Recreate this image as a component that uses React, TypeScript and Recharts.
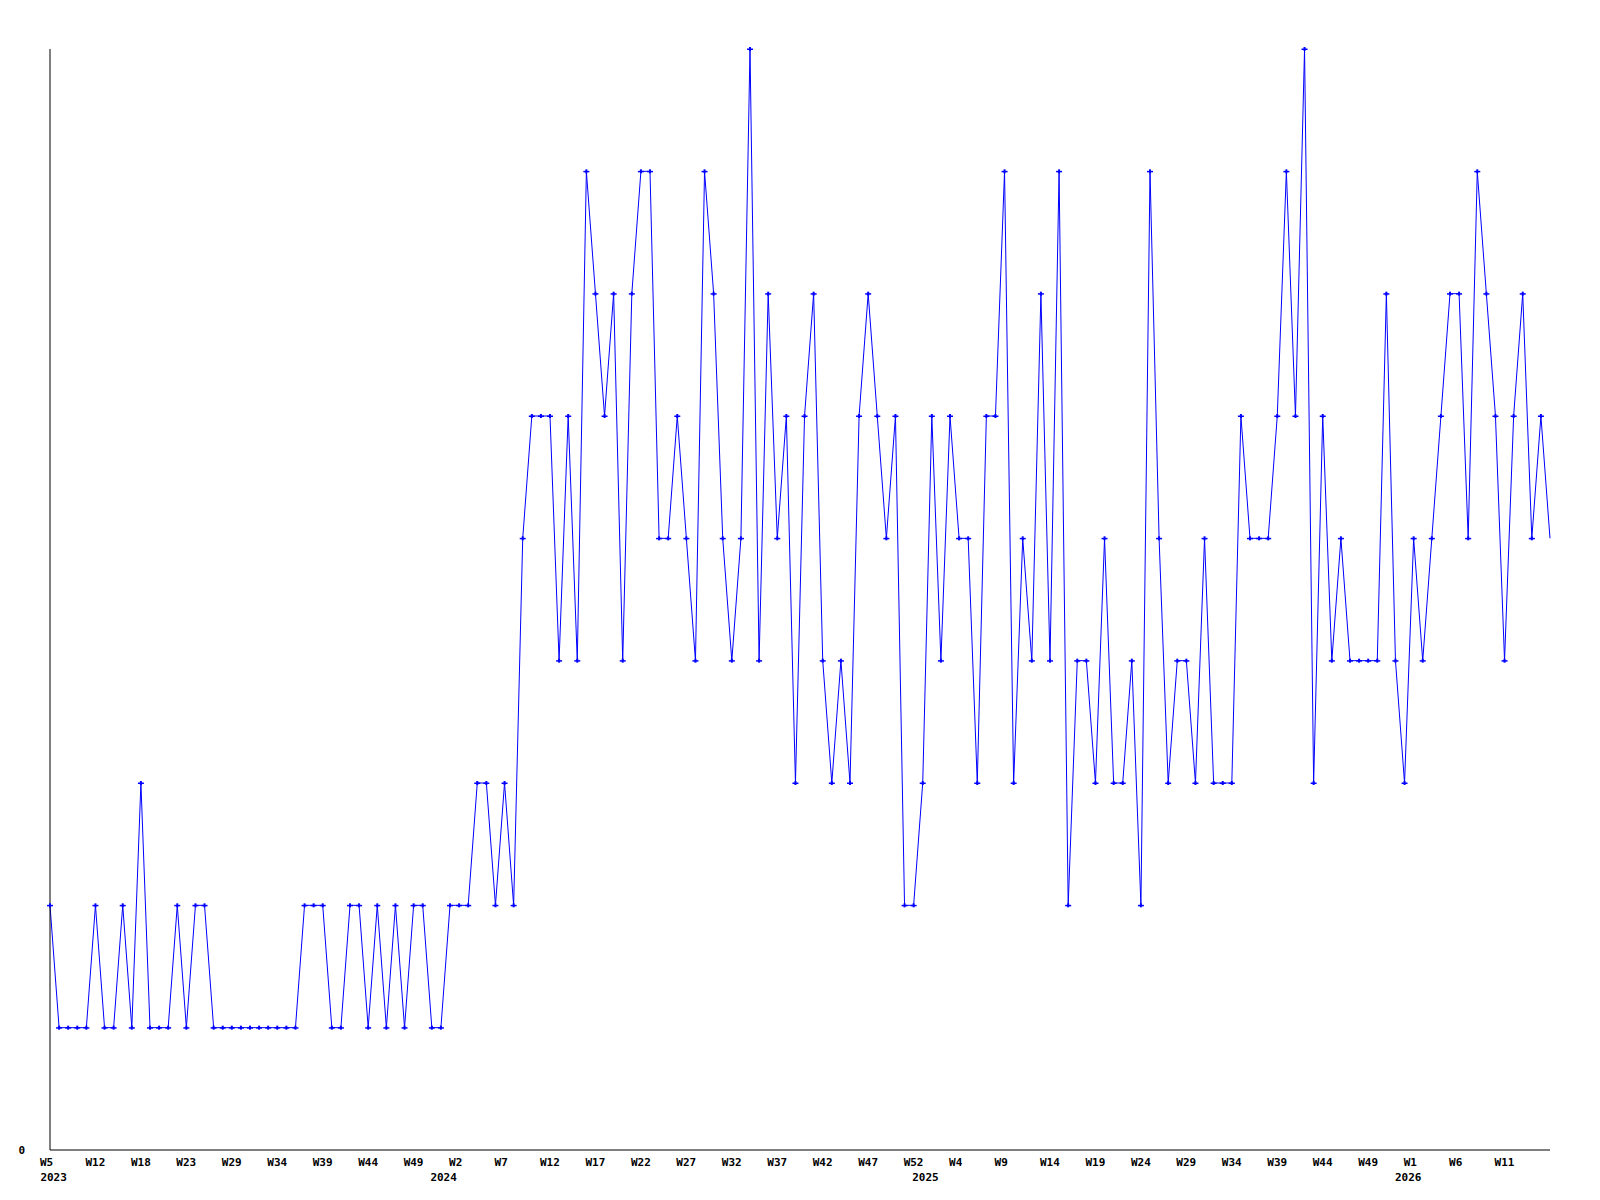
import React from 'react';
import { LineChart, Line, XAxis, YAxis } from 'recharts';

// weekly counts, 2023 W5 .. 2026 W14
const values = [
    2, 1, 1, 1, 1, 2, 1, 1, 2, 1,
    3, 1, 1, 1, 2, 1, 2, 2, 1, 1,
    1, 1, 1, 1, 1, 1, 1, 1, 2, 2,
    2, 1, 1, 2, 2, 1, 2, 1, 2, 1,
    2, 2, 1, 1, 2, 2, 2, 3, 3, 2,
    3, 2, 5, 6, 6, 6, 4, 6, 4, 8,
    7, 6, 7, 4, 7, 8, 8, 5, 5, 6,
    5, 4, 8, 7, 5, 4, 5, 9, 4, 7,
    5, 6, 3, 6, 7, 4, 3, 4, 3, 6,
    7, 6, 5, 6, 2, 2, 3, 6, 4, 6,
    5, 5, 3, 6, 6, 8, 3, 5, 4, 7,
    4, 8, 2, 4, 4, 3, 5, 3, 3, 4,
    2, 8, 5, 3, 4, 4, 3, 5, 3, 3,
    3, 6, 5, 5, 5, 6, 8, 6, 9, 3,
    6, 4, 5, 4, 4, 4, 4, 7, 4, 3,
    5, 4, 5, 6, 7, 7, 5, 8, 7, 6,
    4, 6, 7, 5, 6, 5,
];

// one label every 5 points
const weekLabels = [
    'W5', 'W12', 'W18', 'W23', 'W29', 'W34', 'W39', 'W44', 'W49', 'W2',
    'W7', 'W12', 'W17', 'W22', 'W27', 'W32', 'W37', 'W42', 'W47', 'W52',
    'W4', 'W9', 'W14', 'W19', 'W24', 'W29', 'W34', 'W39', 'W44', 'W49',
    'W1', 'W6', 'W11',
];
const weekTickStep = 5;

const yearLabels = ['2023', '2024', '2025', '2026'];
const yearTicks = [0.4, 43.3, 96.3, 149.4];

const data = values.map((v, i) => ({ i, v }));
const weekTicks = weekLabels.map((_, k) => k * weekTickStep);

const FONT = '"DejaVu Sans Mono", monospace';
const BLUE = '#0000ff';

const WeekTick = (props: any) => {
    const { x, y, payload } = props;
    const label = weekLabels[Math.round(payload.value / weekTickStep)];
    return (
        <text x={x - 10} y={y + 16} textAnchor="start" fontFamily={FONT} fontSize={11} fontWeight="bold" fill="#000">
            {label}
        </text>
    );
};

const YearTick = (props: any) => {
    const { x, y, payload } = props;
    const k = yearTicks.indexOf(payload.value);
    return (
        <text x={x} y={y + 15} textAnchor="middle" fontFamily={FONT} fontSize={11} fontWeight="bold" fill="#000">
            {yearLabels[k]}
        </text>
    );
};

const ValueTick = (props: any) => {
    const { x, y, payload } = props;
    return (
        <text x={x} y={y + 4} textAnchor="end" fontFamily={FONT} fontSize={11} fontWeight="bold" fill="#000">
            {payload.value}
        </text>
    );
};

// small "+" shaped marker, no marker on the last point
const renderDot = (props: any) => {
    const { cx, cy, index } = props;
    if (index === values.length - 1 || cx == null) return <g key={`d${index}`} />;
    return (
        <g key={`d${index}`}>
            <rect x={cx - 3} y={cy - 0.5} width={6} height={1.5} fill={BLUE} />
            <rect x={cx - 1} y={cy - 2} width={2} height={4} fill={BLUE} />
        </g>
    );
};

export default function App() {
    return (
        <div style={{ position: 'absolute', left: 0, top: 0, width: 1600, height: 1200, background: '#fff' }}>
            <LineChart width={1600} height={1200} data={data} margin={{ top: 49, right: 50, left: 10, bottom: 18 }}>
                <XAxis
                    xAxisId="week"
                    dataKey="i"
                    type="number"
                    domain={[0, values.length - 1]}
                    ticks={weekTicks}
                    interval={0}
                    height={16}
                    tickSize={0}
                    tickMargin={0}
                    tickLine={false}
                    axisLine={{ stroke: '#000', strokeWidth: 1 }}
                    tick={<WeekTick />}
                />
                <XAxis
                    xAxisId="year"
                    dataKey="i"
                    type="number"
                    domain={[0, values.length - 1]}
                    ticks={yearTicks}
                    interval={0}
                    height={16}
                    tickSize={0}
                    tickMargin={0}
                    tickLine={false}
                    axisLine={false}
                    tick={<YearTick />}
                />
                <YAxis
                    width={40}
                    domain={[0, 9]}
                    ticks={[0]}
                    interval={0}
                    tickSize={0}
                    tickMargin={25}
                    tickLine={false}
                    axisLine={{ stroke: '#000', strokeWidth: 1 }}
                    tick={<ValueTick />}
                />
                <Line
                    xAxisId="week"
                    type="linear"
                    dataKey="v"
                    stroke={BLUE}
                    strokeWidth={1}
                    dot={renderDot}
                    activeDot={false}
                    isAnimationActive={false}
                />
            </LineChart>
        </div>
    );
}
